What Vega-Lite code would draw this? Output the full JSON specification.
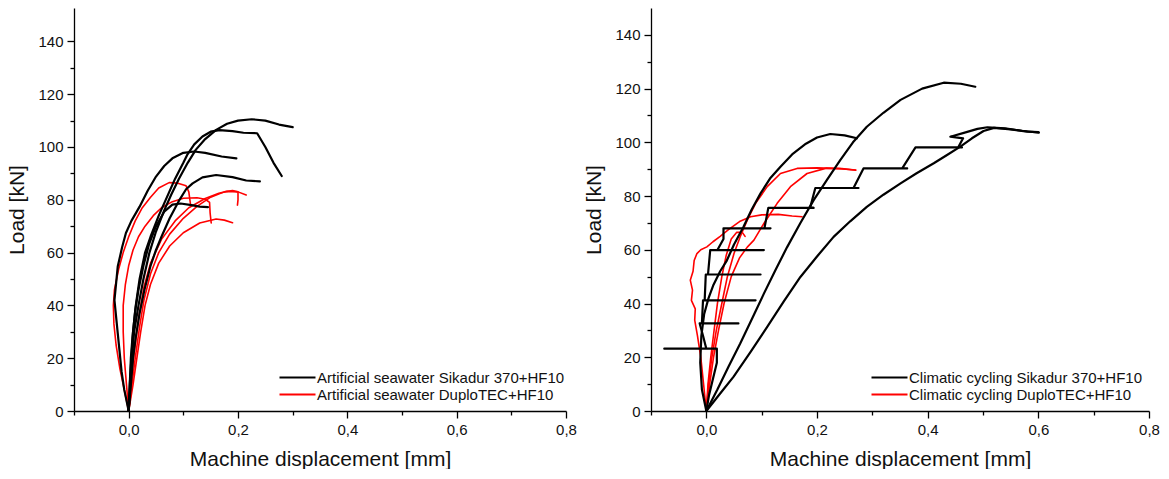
{
  "$schema": "https://vega.github.io/schema/vega-lite/v6.json",
  "padding": {"left": 6, "top": 8, "right": 0, "bottom": 0},
  "background": "white",
  "config": {
    "view": {"stroke": null},
    "font": "Liberation Sans",
    "axis": {"grid": false, "domainColor": "#000", "domainWidth": 1.3, "tickColor": "#000", "tickWidth": 1.3, "labelFontSize": 15, "labelColor": "#111", "titleFontSize": 21, "titleFontWeight": "normal", "titleColor": "#111", "labelFont": "Liberation Sans", "titleFont": "Liberation Sans", "labelOverlap": false, "labelFlush": false},
    "legend": {"orient": "none", "title": null, "symbolType": "M-3,0H3", "symbolSize": 144, "symbolStrokeWidth": 2, "labelFontSize": 15, "labelOffset": 12, "rowPadding": 1, "padding": 0, "labelColor": "#111", "labelLimit": 500, "labelFont": "Liberation Sans"}
  },
  "datasets": {
    "leftCurves": [
      {"c": "B1", "g": "Artificial seawater Sikadur 370+HF10"},
      {"c": "B2", "g": "Artificial seawater Sikadur 370+HF10"},
      {"c": "B3", "g": "Artificial seawater Sikadur 370+HF10"},
      {"c": "B4", "g": "Artificial seawater Sikadur 370+HF10"},
      {"c": "B5", "g": "Artificial seawater Sikadur 370+HF10"},
      {"c": "R1", "g": "Artificial seawater DuploTEC+HF10"},
      {"c": "R2", "g": "Artificial seawater DuploTEC+HF10"},
      {"c": "R3", "g": "Artificial seawater DuploTEC+HF10"},
      {"c": "R4", "g": "Artificial seawater DuploTEC+HF10"},
      {"c": "R5", "g": "Artificial seawater DuploTEC+HF10"}
    ],
    "rightCurves": [
      {"c": "B1", "g": "Climatic cycling Sikadur 370+HF10"},
      {"c": "B2", "g": "Climatic cycling Sikadur 370+HF10"},
      {"c": "B3", "g": "Climatic cycling Sikadur 370+HF10"},
      {"c": "B5", "g": "Climatic cycling Sikadur 370+HF10"},
      {"c": "R1", "g": "Climatic cycling DuploTEC+HF10"},
      {"c": "R2", "g": "Climatic cycling DuploTEC+HF10"},
      {"c": "R3", "g": "Climatic cycling DuploTEC+HF10"},
      {"c": "R4", "g": "Climatic cycling DuploTEC+HF10"}
    ],
    "left": [
      {"c":"R1","i":0,"x":0,"y":0},{"c":"R1","i":1,"x":-0.008,"y":8},{"c":"R1","i":2,"x":-0.016,"y":16},{"c":"R1","i":3,"x":-0.023,"y":25},{"c":"R1","i":4,"x":-0.027,"y":33},{"c":"R1","i":5,"x":-0.028,"y":40},{"c":"R1","i":6,"x":-0.026,"y":46},{"c":"R1","i":7,"x":-0.018,"y":54},{"c":"R1","i":8,"x":-0.01,"y":60},{"c":"R1","i":9,"x":0.0,"y":66},{"c":"R1","i":10,"x":0.012,"y":72},{"c":"R1","i":11,"x":0.025,"y":77},{"c":"R1","i":12,"x":0.04,"y":81},{"c":"R1","i":13,"x":0.055,"y":84.5},{"c":"R1","i":14,"x":0.074,"y":86.5},{"c":"R1","i":15,"x":0.09,"y":86.3},{"c":"R1","i":16,"x":0.105,"y":85.3},{"c":"R1","i":17,"x":0.11,"y":83},{"c":"R1","i":18,"x":0.112,"y":80},{"c":"R1","i":19,"x":0.113,"y":78.5},
      {"c":"R2","i":0,"x":0,"y":0},{"c":"R2","i":1,"x":-0.004,"y":10},{"c":"R2","i":2,"x":-0.008,"y":20},{"c":"R2","i":3,"x":-0.01,"y":30},{"c":"R2","i":4,"x":-0.01,"y":40},{"c":"R2","i":5,"x":-0.006,"y":48},{"c":"R2","i":6,"x":0.0,"y":55},{"c":"R2","i":7,"x":0.008,"y":61},{"c":"R2","i":8,"x":0.018,"y":66},{"c":"R2","i":9,"x":0.03,"y":70},{"c":"R2","i":10,"x":0.045,"y":74},{"c":"R2","i":11,"x":0.06,"y":77},{"c":"R2","i":12,"x":0.08,"y":79.3},{"c":"R2","i":13,"x":0.1,"y":80.6},{"c":"R2","i":14,"x":0.125,"y":80.8},{"c":"R2","i":15,"x":0.14,"y":80.2},{"c":"R2","i":16,"x":0.148,"y":79},{"c":"R2","i":17,"x":0.149,"y":75},{"c":"R2","i":18,"x":0.151,"y":71.2},
      {"c":"R3","i":0,"x":0,"y":0},{"c":"R3","i":1,"x":0.006,"y":10},{"c":"R3","i":2,"x":0.012,"y":20},{"c":"R3","i":3,"x":0.02,"y":32},{"c":"R3","i":4,"x":0.028,"y":42},{"c":"R3","i":5,"x":0.04,"y":52},{"c":"R3","i":6,"x":0.055,"y":60},{"c":"R3","i":7,"x":0.075,"y":67},{"c":"R3","i":8,"x":0.1,"y":73},{"c":"R3","i":9,"x":0.125,"y":77.5},{"c":"R3","i":10,"x":0.15,"y":81},{"c":"R3","i":11,"x":0.175,"y":83},{"c":"R3","i":12,"x":0.19,"y":83.5},{"c":"R3","i":13,"x":0.2,"y":83},{"c":"R3","i":14,"x":0.2,"y":80},{"c":"R3","i":15,"x":0.199,"y":78},
      {"c":"R4","i":0,"x":0,"y":0},{"c":"R4","i":1,"x":0.004,"y":10},{"c":"R4","i":2,"x":0.01,"y":22},{"c":"R4","i":3,"x":0.018,"y":35},{"c":"R4","i":4,"x":0.028,"y":47},{"c":"R4","i":5,"x":0.04,"y":56},{"c":"R4","i":6,"x":0.06,"y":65},{"c":"R4","i":7,"x":0.085,"y":72},{"c":"R4","i":8,"x":0.11,"y":77},{"c":"R4","i":9,"x":0.14,"y":80.5},{"c":"R4","i":10,"x":0.165,"y":82.5},{"c":"R4","i":11,"x":0.18,"y":83.2},{"c":"R4","i":12,"x":0.2,"y":83},{"c":"R4","i":13,"x":0.215,"y":81.8},
      {"c":"R5","i":0,"x":0,"y":0},{"c":"R5","i":1,"x":0.008,"y":10},{"c":"R5","i":2,"x":0.015,"y":20},{"c":"R5","i":3,"x":0.022,"y":30},{"c":"R5","i":4,"x":0.03,"y":40},{"c":"R5","i":5,"x":0.04,"y":48},{"c":"R5","i":6,"x":0.055,"y":56},{"c":"R5","i":7,"x":0.075,"y":62.5},{"c":"R5","i":8,"x":0.1,"y":67.5},{"c":"R5","i":9,"x":0.13,"y":71.2},{"c":"R5","i":10,"x":0.16,"y":72.7},{"c":"R5","i":11,"x":0.175,"y":72.3},{"c":"R5","i":12,"x":0.19,"y":71.3},
      {"c":"B1","i":0,"x":0,"y":0},{"c":"B1","i":1,"x":0.003,"y":10},{"c":"B1","i":2,"x":0.006,"y":20},{"c":"B1","i":3,"x":0.01,"y":30},{"c":"B1","i":4,"x":0.018,"y":40},{"c":"B1","i":5,"x":0.027,"y":50},{"c":"B1","i":6,"x":0.038,"y":60},{"c":"B1","i":7,"x":0.05,"y":68},{"c":"B1","i":8,"x":0.065,"y":76},{"c":"B1","i":9,"x":0.078,"y":82},{"c":"B1","i":10,"x":0.092,"y":88},{"c":"B1","i":11,"x":0.108,"y":94},{"c":"B1","i":12,"x":0.123,"y":99},{"c":"B1","i":13,"x":0.14,"y":103},{"c":"B1","i":14,"x":0.16,"y":106.5},{"c":"B1","i":15,"x":0.18,"y":108.8},{"c":"B1","i":16,"x":0.2,"y":110},{"c":"B1","i":17,"x":0.225,"y":110.5},{"c":"B1","i":18,"x":0.25,"y":110},{"c":"B1","i":19,"x":0.275,"y":108.5},{"c":"B1","i":20,"x":0.3,"y":107.5},
      {"c":"B2","i":0,"x":0,"y":0},{"c":"B2","i":1,"x":0.002,"y":10},{"c":"B2","i":2,"x":0.005,"y":20},{"c":"B2","i":3,"x":0.008,"y":30},{"c":"B2","i":4,"x":0.013,"y":40},{"c":"B2","i":5,"x":0.02,"y":50},{"c":"B2","i":6,"x":0.03,"y":60},{"c":"B2","i":7,"x":0.04,"y":66},{"c":"B2","i":8,"x":0.055,"y":74},{"c":"B2","i":9,"x":0.07,"y":81},{"c":"B2","i":10,"x":0.085,"y":88},{"c":"B2","i":11,"x":0.1,"y":94},{"c":"B2","i":12,"x":0.107,"y":97},{"c":"B2","i":13,"x":0.12,"y":101},{"c":"B2","i":14,"x":0.135,"y":104},{"c":"B2","i":15,"x":0.15,"y":105.8},{"c":"B2","i":16,"x":0.166,"y":106.4},{"c":"B2","i":17,"x":0.19,"y":106},{"c":"B2","i":18,"x":0.21,"y":105.4},{"c":"B2","i":19,"x":0.235,"y":105.2},{"c":"B2","i":20,"x":0.25,"y":100},{"c":"B2","i":21,"x":0.265,"y":94},{"c":"B2","i":22,"x":0.28,"y":89},
      {"c":"B3","i":0,"x":0,"y":0},{"c":"B3","i":1,"x":-0.008,"y":8},{"c":"B3","i":2,"x":-0.013,"y":15},{"c":"B3","i":3,"x":-0.02,"y":29.5},{"c":"B3","i":4,"x":-0.026,"y":42},{"c":"B3","i":5,"x":-0.02,"y":54.7},{"c":"B3","i":6,"x":-0.012,"y":62},{"c":"B3","i":7,"x":-0.005,"y":67.4},{"c":"B3","i":8,"x":0.005,"y":72},{"c":"B3","i":9,"x":0.02,"y":77.4},{"c":"B3","i":10,"x":0.035,"y":83.5},{"c":"B3","i":11,"x":0.05,"y":88.8},{"c":"B3","i":12,"x":0.065,"y":92.8},{"c":"B3","i":13,"x":0.08,"y":95.7},{"c":"B3","i":14,"x":0.1,"y":97.8},{"c":"B3","i":15,"x":0.12,"y":98.3},{"c":"B3","i":16,"x":0.14,"y":97.8},{"c":"B3","i":17,"x":0.17,"y":96.4},{"c":"B3","i":18,"x":0.197,"y":95.7},
      {"c":"B4","i":0,"x":0,"y":0},{"c":"B4","i":1,"x":0.004,"y":10},{"c":"B4","i":2,"x":0.008,"y":20},{"c":"B4","i":3,"x":0.013,"y":28},{"c":"B4","i":4,"x":0.02,"y":37},{"c":"B4","i":5,"x":0.029,"y":46},{"c":"B4","i":6,"x":0.04,"y":55},{"c":"B4","i":7,"x":0.05,"y":61},{"c":"B4","i":8,"x":0.06,"y":66},{"c":"B4","i":9,"x":0.075,"y":73},{"c":"B4","i":10,"x":0.093,"y":80},{"c":"B4","i":11,"x":0.105,"y":84},{"c":"B4","i":12,"x":0.117,"y":86.2},{"c":"B4","i":13,"x":0.135,"y":88.5},{"c":"B4","i":14,"x":0.16,"y":89.4},{"c":"B4","i":15,"x":0.19,"y":88.6},{"c":"B4","i":16,"x":0.215,"y":87.3},{"c":"B4","i":17,"x":0.24,"y":87},
      {"c":"B5","i":0,"x":0,"y":0},{"c":"B5","i":1,"x":0.002,"y":10},{"c":"B5","i":2,"x":0.004,"y":20},{"c":"B5","i":3,"x":0.007,"y":28},{"c":"B5","i":4,"x":0.012,"y":38},{"c":"B5","i":5,"x":0.018,"y":46},{"c":"B5","i":6,"x":0.027,"y":55},{"c":"B5","i":7,"x":0.037,"y":63},{"c":"B5","i":8,"x":0.05,"y":70},{"c":"B5","i":9,"x":0.065,"y":75.5},{"c":"B5","i":10,"x":0.08,"y":78.2},{"c":"B5","i":11,"x":0.095,"y":78.6},{"c":"B5","i":12,"x":0.115,"y":78},{"c":"B5","i":13,"x":0.13,"y":77.4},{"c":"B5","i":14,"x":0.145,"y":77.2}
    ],
    "right": [
      {"c":"R1","i":0,"x":0,"y":0},{"c":"R1","i":1,"x":0.004,"y":10},{"c":"R1","i":2,"x":0.01,"y":20},{"c":"R1","i":3,"x":0.018,"y":30},{"c":"R1","i":4,"x":0.028,"y":40},{"c":"R1","i":5,"x":0.038,"y":50},{"c":"R1","i":6,"x":0.05,"y":58.6},{"c":"R1","i":7,"x":0.061,"y":64.8},{"c":"R1","i":8,"x":0.074,"y":71},{"c":"R1","i":9,"x":0.089,"y":77.3},{"c":"R1","i":10,"x":0.11,"y":83.5},{"c":"R1","i":11,"x":0.134,"y":88.4},{"c":"R1","i":12,"x":0.164,"y":90.3},{"c":"R1","i":13,"x":0.2,"y":90.5},{"c":"R1","i":14,"x":0.24,"y":90.2},{"c":"R1","i":15,"x":0.27,"y":89.7},
      {"c":"R2","i":0,"x":0,"y":0},{"c":"R2","i":1,"x":0.006,"y":10},{"c":"R2","i":2,"x":0.013,"y":20},{"c":"R2","i":3,"x":0.022,"y":30},{"c":"R2","i":4,"x":0.032,"y":40},{"c":"R2","i":5,"x":0.045,"y":50},{"c":"R2","i":6,"x":0.06,"y":57},{"c":"R2","i":7,"x":0.074,"y":61},{"c":"R2","i":8,"x":0.086,"y":63.6},{"c":"R2","i":9,"x":0.104,"y":69.8},{"c":"R2","i":10,"x":0.128,"y":77.3},{"c":"R2","i":11,"x":0.152,"y":83.5},{"c":"R2","i":12,"x":0.182,"y":88.4},{"c":"R2","i":13,"x":0.217,"y":90.4},{"c":"R2","i":14,"x":0.245,"y":90.2},{"c":"R2","i":15,"x":0.27,"y":89.6},
      {"c":"R3","i":0,"x":0,"y":0},{"c":"R3","i":1,"x":-0.005,"y":10},{"c":"R3","i":2,"x":-0.01,"y":20},{"c":"R3","i":3,"x":-0.016,"y":28},{"c":"R3","i":4,"x":-0.021,"y":33.8},{"c":"R3","i":5,"x":-0.02,"y":38},{"c":"R3","i":6,"x":-0.027,"y":41.2},{"c":"R3","i":7,"x":-0.025,"y":45},{"c":"R3","i":8,"x":-0.029,"y":48.7},{"c":"R3","i":9,"x":-0.024,"y":52},{"c":"R3","i":10,"x":-0.022,"y":56},{"c":"R3","i":11,"x":-0.017,"y":58.6},{"c":"R3","i":12,"x":-0.01,"y":60},{"c":"R3","i":13,"x":0.001,"y":61.1},{"c":"R3","i":14,"x":0.012,"y":63},{"c":"R3","i":15,"x":0.025,"y":65},{"c":"R3","i":16,"x":0.04,"y":67.5},{"c":"R3","i":17,"x":0.06,"y":70.5},{"c":"R3","i":18,"x":0.08,"y":72.3},{"c":"R3","i":19,"x":0.1,"y":73},{"c":"R3","i":20,"x":0.13,"y":73.2},{"c":"R3","i":21,"x":0.155,"y":72.6},{"c":"R3","i":22,"x":0.173,"y":72.3},
      {"c":"R4","i":0,"x":0,"y":0},{"c":"R4","i":1,"x":0.003,"y":10},{"c":"R4","i":2,"x":0.008,"y":20},{"c":"R4","i":3,"x":0.014,"y":30},{"c":"R4","i":4,"x":0.02,"y":40},{"c":"R4","i":5,"x":0.028,"y":50},{"c":"R4","i":6,"x":0.036,"y":58},{"c":"R4","i":7,"x":0.045,"y":64},{"c":"R4","i":8,"x":0.055,"y":66.5},{"c":"R4","i":9,"x":0.065,"y":66.5},{"c":"R4","i":10,"x":0.07,"y":65},
      {"c":"B1","i":0,"x":0,"y":0},{"c":"B1","i":1,"x":0.02,"y":8},{"c":"B1","i":2,"x":0.04,"y":16.5},{"c":"B1","i":3,"x":0.061,"y":25},{"c":"B1","i":4,"x":0.083,"y":34.5},{"c":"B1","i":5,"x":0.104,"y":43.7},{"c":"B1","i":6,"x":0.125,"y":52.5},{"c":"B1","i":7,"x":0.146,"y":61},{"c":"B1","i":8,"x":0.17,"y":70},{"c":"B1","i":9,"x":0.194,"y":78.5},{"c":"B1","i":10,"x":0.218,"y":86},{"c":"B1","i":11,"x":0.242,"y":93.4},{"c":"B1","i":12,"x":0.265,"y":100},{"c":"B1","i":13,"x":0.29,"y":105.8},{"c":"B1","i":14,"x":0.32,"y":111},{"c":"B1","i":15,"x":0.351,"y":115.8},{"c":"B1","i":16,"x":0.39,"y":120},{"c":"B1","i":17,"x":0.429,"y":122.2},{"c":"B1","i":18,"x":0.46,"y":121.8},{"c":"B1","i":19,"x":0.486,"y":120.7},
      {"c":"B2","i":0,"x":0,"y":0},{"c":"B2","i":1,"x":-0.008,"y":8},{"c":"B2","i":2,"x":-0.011,"y":18},{"c":"B2","i":3,"x":-0.009,"y":28},{"c":"B2","i":4,"x":-0.004,"y":36},{"c":"B2","i":5,"x":0.004,"y":42},{"c":"B2","i":6,"x":0.013,"y":47},{"c":"B2","i":7,"x":0.025,"y":52},{"c":"B2","i":8,"x":0.037,"y":56},{"c":"B2","i":9,"x":0.05,"y":62},{"c":"B2","i":10,"x":0.067,"y":68.5},{"c":"B2","i":11,"x":0.082,"y":75},{"c":"B2","i":12,"x":0.098,"y":81},{"c":"B2","i":13,"x":0.115,"y":86.5},{"c":"B2","i":14,"x":0.134,"y":90.9},{"c":"B2","i":15,"x":0.155,"y":95.5},{"c":"B2","i":16,"x":0.18,"y":99.5},{"c":"B2","i":17,"x":0.2,"y":101.8},{"c":"B2","i":18,"x":0.224,"y":103.1},{"c":"B2","i":19,"x":0.25,"y":102.6},{"c":"B2","i":20,"x":0.272,"y":101.5},
      {"c":"B3","i":0,"x":0,"y":0},{"c":"B3","i":1,"x":0.005,"y":6},{"c":"B3","i":2,"x":0.012,"y":12},{"c":"B3","i":3,"x":0.019,"y":18},{"c":"B3","i":4,"x":0.019,"y":23.2},{"c":"B3","i":5,"x":-0.076,"y":23.2},{"c":"B3","i":6,"x":0.0,"y":23.2},{"c":"B3","i":7,"x":-0.006,"y":28},{"c":"B3","i":8,"x":-0.012,"y":32.6},{"c":"B3","i":9,"x":0.058,"y":32.6},{"c":"B3","i":10,"x":-0.008,"y":32.6},{"c":"B3","i":11,"x":-0.006,"y":41.2},{"c":"B3","i":12,"x":0.089,"y":41.2},{"c":"B3","i":13,"x":-0.003,"y":41.2},{"c":"B3","i":14,"x":-0.001,"y":50.8},{"c":"B3","i":15,"x":0.098,"y":50.8},{"c":"B3","i":16,"x":0.003,"y":50.8},{"c":"B3","i":17,"x":0.007,"y":59.9},{"c":"B3","i":18,"x":0.104,"y":59.9},{"c":"B3","i":19,"x":0.02,"y":59.9},{"c":"B3","i":20,"x":0.031,"y":64},{"c":"B3","i":21,"x":0.031,"y":68},{"c":"B3","i":22,"x":0.116,"y":68},{"c":"B3","i":23,"x":0.105,"y":68},{"c":"B3","i":24,"x":0.112,"y":75.6},{"c":"B3","i":25,"x":0.194,"y":75.6},{"c":"B3","i":26,"x":0.188,"y":76},{"c":"B3","i":27,"x":0.197,"y":83},{"c":"B3","i":28,"x":0.275,"y":83},{"c":"B3","i":29,"x":0.266,"y":83},{"c":"B3","i":30,"x":0.284,"y":90.3},{"c":"B3","i":31,"x":0.363,"y":90.3},{"c":"B3","i":32,"x":0.354,"y":90.3},{"c":"B3","i":33,"x":0.378,"y":98.1},{"c":"B3","i":34,"x":0.462,"y":98.1},{"c":"B3","i":35,"x":0.455,"y":98.1},{"c":"B3","i":36,"x":0.464,"y":101.5},{"c":"B3","i":37,"x":0.441,"y":102.1},{"c":"B3","i":38,"x":0.47,"y":103.8},{"c":"B3","i":39,"x":0.49,"y":105},{"c":"B3","i":40,"x":0.508,"y":105.6},{"c":"B3","i":41,"x":0.54,"y":105.2},{"c":"B3","i":42,"x":0.57,"y":104.3},{"c":"B3","i":43,"x":0.601,"y":103.6},
      {"c":"B5","i":0,"x":0,"y":0},{"c":"B5","i":1,"x":0.025,"y":6.5},{"c":"B5","i":2,"x":0.049,"y":12.7},{"c":"B5","i":3,"x":0.08,"y":22},{"c":"B5","i":4,"x":0.11,"y":31.3},{"c":"B5","i":5,"x":0.14,"y":40.8},{"c":"B5","i":6,"x":0.17,"y":49.9},{"c":"B5","i":7,"x":0.2,"y":57.5},{"c":"B5","i":8,"x":0.23,"y":64.8},{"c":"B5","i":9,"x":0.26,"y":70.6},{"c":"B5","i":10,"x":0.29,"y":76},{"c":"B5","i":11,"x":0.32,"y":80.5},{"c":"B5","i":12,"x":0.351,"y":84.7},{"c":"B5","i":13,"x":0.38,"y":88.5},{"c":"B5","i":14,"x":0.411,"y":92.2},{"c":"B5","i":15,"x":0.435,"y":95.3},{"c":"B5","i":16,"x":0.459,"y":98.4},{"c":"B5","i":17,"x":0.48,"y":101.5},{"c":"B5","i":18,"x":0.501,"y":104.2},{"c":"B5","i":19,"x":0.52,"y":105.4},{"c":"B5","i":20,"x":0.55,"y":104.8},{"c":"B5","i":21,"x":0.58,"y":104},{"c":"B5","i":22,"x":0.6,"y":103.8}
    ]
  },
  "spacing": 6,
  "resolve": {"scale": {"color": "independent", "x": "independent", "y": "independent"}, "legend": {"color": "independent"}},
  "hconcat": [
    {
      "width": 492,
      "height": 403,
      "data": {"name": "left"},
      "transform": [{"lookup": "c", "from": {"data": {"name": "leftCurves"}, "key": "c", "fields": ["g"]}}],
      "mark": {"type": "line", "strokeJoin": "round", "strokeCap": "round"},
      "encoding": {
        "x": {"field": "x", "type": "quantitative", "scale": {"domain": [-0.1, 0.8], "nice": false, "zero": false},
          "axis": {"title": "Machine displacement [mm]", "values": [-0.1, 0, 0.1, 0.2, 0.3, 0.4, 0.5, 0.6, 0.7, 0.8],
            "labelExpr": "abs(round(datum.value*10)) % 2 == 0 ? replace(format(datum.value, '.1f'), '.', ',') : ''",
            "tickSize": {"condition": {"test": "abs(round(datum.value*10)) % 2 == 0", "value": 7}, "value": 4},
            "labelPadding": 4, "titlePadding": 11}},
        "y": {"field": "y", "type": "quantitative", "scale": {"domain": [0, 152.65], "nice": false},
          "axis": {"title": "Load [kN]", "values": [0, 10, 20, 30, 40, 50, 60, 70, 80, 90, 100, 110, 120, 130, 140],
            "labelExpr": "datum.value % 20 == 0 ? datum.label : ''",
            "tickSize": {"condition": {"test": "datum.value % 20 == 0", "value": 7}, "value": 4},
            "labelPadding": 4, "titlePadding": 10}},
        "detail": {"field": "c"},
        "order": {"field": "i", "type": "quantitative"},
        "color": {"field": "g", "type": "nominal",
          "scale": {"domain": ["Artificial seawater Sikadur 370+HF10", "Artificial seawater DuploTEC+HF10"], "range": ["#000000", "#ff0000"]},
          "legend": {"legendX": 216, "legendY": 362}},
        "strokeWidth": {"condition": {"test": "indexof(datum.c, 'B') == 0", "value": 2.2}, "value": 1.6}
      }
    },
    {
      "width": 498,
      "height": 403,
      "data": {"name": "right"},
      "transform": [{"lookup": "c", "from": {"data": {"name": "rightCurves"}, "key": "c", "fields": ["g"]}}],
      "mark": {"type": "line", "strokeJoin": "round", "strokeCap": "round"},
      "encoding": {
        "x": {"field": "x", "type": "quantitative", "scale": {"domain": [-0.1, 0.8], "nice": false, "zero": false},
          "axis": {"title": "Machine displacement [mm]", "values": [-0.1, 0, 0.1, 0.2, 0.3, 0.4, 0.5, 0.6, 0.7, 0.8],
            "labelExpr": "abs(round(datum.value*10)) % 2 == 0 ? replace(format(datum.value, '.1f'), '.', ',') : ''",
            "tickSize": {"condition": {"test": "abs(round(datum.value*10)) % 2 == 0", "value": 7}, "value": 4},
            "labelPadding": 4, "titlePadding": 11}},
        "y": {"field": "y", "type": "quantitative", "scale": {"domain": [0, 150], "nice": false},
          "axis": {"title": "Load [kN]", "values": [0, 10, 20, 30, 40, 50, 60, 70, 80, 90, 100, 110, 120, 130, 140],
            "labelExpr": "datum.value % 20 == 0 ? datum.label : ''",
            "tickSize": {"condition": {"test": "datum.value % 20 == 0", "value": 7}, "value": 4},
            "labelPadding": 4, "titlePadding": 10}},
        "detail": {"field": "c"},
        "order": {"field": "i", "type": "quantitative"},
        "color": {"field": "g", "type": "nominal",
          "scale": {"domain": ["Climatic cycling Sikadur 370+HF10", "Climatic cycling DuploTEC+HF10"], "range": ["#000000", "#ff0000"]},
          "legend": {"legendX": 231, "legendY": 362}},
        "strokeWidth": {"condition": {"test": "indexof(datum.c, 'B') == 0", "value": 2.2}, "value": 1.6}
      }
    }
  ]
}
